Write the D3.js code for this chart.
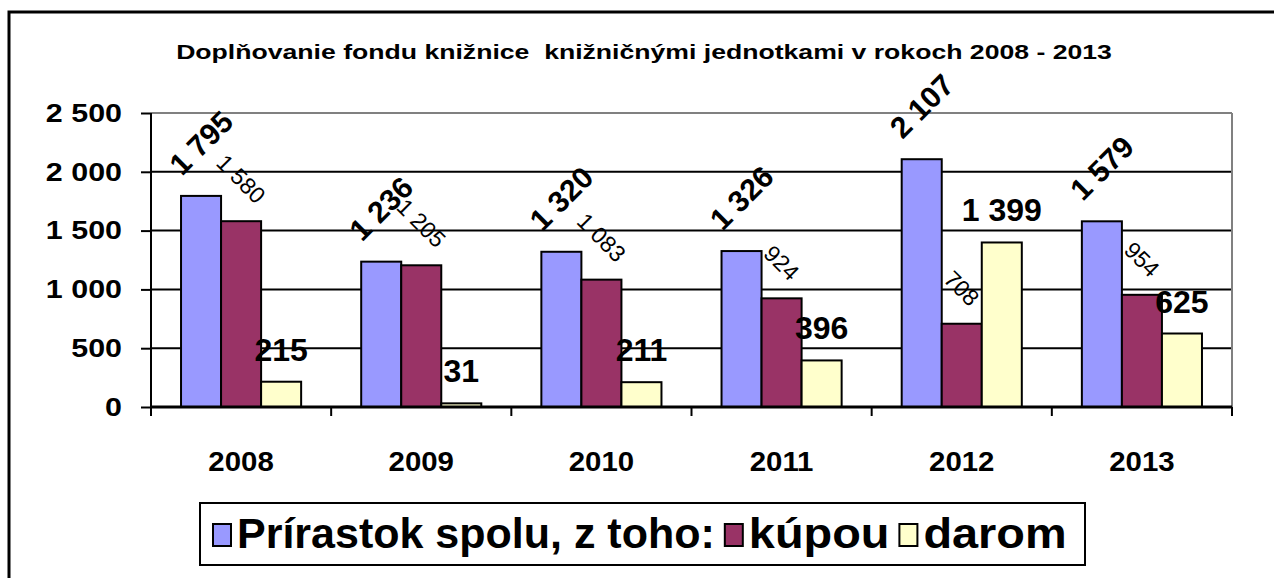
<!DOCTYPE html>
<html>
<head>
<meta charset="utf-8">
<script src="https://cdn.jsdelivr.net/npm/d3@7"></script>
<style>
  body { margin: 0; background: #fff; }
  text { font-family: Arial, "Liberation Sans", sans-serif; }
</style>
</head>
<body>
<div class="chart"></div>
<script>
// data
var years = ["2008", "2009", "2010", "2011", "2012", "2013"];
var spolu = [1795, 1236, 1320, 1326, 2107, 1579];
var kupou = [1580, 1205, 1083, 924, 708, 954];
var darom = [215, 31, 211, 396, 1399, 625];
var seriesNames = ["Prírastok spolu, z toho:", "kúpou", "darom"];
var seriesColors = ["#9999ff", "#993366", "#ffffcc"];
var yTicks = [0, 500, 1000, 1500, 2000, 2500];
var title = "Doplňovanie fondu knižnice  knižničnými jednotkami v rokoch 2008 - 2013";

var W = 1274, H = 578;
var plot = {left: 151, right: 1232, top: 113, bottom: 407};

var svg = d3.select(".chart").append("svg")
    .attr("width", W)
    .attr("height", H);

// widen text horizontally (the source font renders wide)
function stretch(sel, k) {
  sel.each(function() {
    var len = this.getComputedTextLength();
    d3.select(this).attr("textLength", len * k).attr("lengthAdjust", "spacingAndGlyphs");
  });
}

// outer frame (runs off the right and bottom edges)
svg.append("rect")
    .attr("x", 9).attr("y", 12)
    .attr("width", 1400).attr("height", 700)
    .attr("fill", "none")
    .attr("stroke", "#000")
    .attr("stroke-width", 3);

svg.append("text")
    .attr("x", 644).attr("y", 59)
    .attr("text-anchor", "middle")
    .attr("font-size", 20)
    .attr("font-weight", "bold")
    .style("white-space", "pre")
    .text(title)
    .call(stretch, 1.33);

var fmt = function(v) { return d3.format(",")(v).replace(/,/g, " "); };

var y = d3.scaleLinear().domain([0, 2500]).range([plot.bottom, plot.top]);
var x0 = d3.scaleBand().domain(years).range([plot.left, plot.right])
    .paddingInner(1 / 3).paddingOuter(1 / 6);
var x1 = d3.scaleBand().domain([0, 1, 2]).range([0, x0.bandwidth()]);

// gridlines
svg.append("g").selectAll("line")
    .data(yTicks.filter(function(d) { return d > 0; }))
    .enter().append("line")
      .attr("x1", plot.left).attr("x2", plot.right)
      .attr("y1", function(d) { return y(d); })
      .attr("y2", function(d) { return y(d); })
      .attr("stroke", function(d) { return d == 2500 ? "#808080" : "#000"; })
      .attr("stroke-width", 2);
// right border of plot area
svg.append("line")
    .attr("x1", plot.right).attr("x2", plot.right)
    .attr("y1", plot.top).attr("y2", plot.bottom)
    .attr("stroke", "#808080").attr("stroke-width", 2);

// bars
var table = years.map(function(yr, i) { return [spolu[i], kupou[i], darom[i]]; });
var groups = svg.append("g").selectAll("g")
    .data(table)
    .enter().append("g")
      .attr("transform", function(d, i) { return "translate(" + x0(years[i]) + ",0)"; });
groups.selectAll("rect")
    .data(function(d) { return d; })
    .enter().append("rect")
      .attr("x", function(d, j) { return x1(j); })
      .attr("y", function(d) { return y(d); })
      .attr("width", x1.bandwidth())
      .attr("height", function(d) { return y(0) - y(d); })
      .attr("fill", function(d, j) { return seriesColors[j]; })
      .attr("stroke", "#000")
      .attr("stroke-width", 2);

// axes
var yAxis = svg.append("g")
    .attr("transform", "translate(" + plot.left + ",0)")
    .call(d3.axisLeft(y).tickValues(yTicks).tickSize(10).tickPadding(19).tickFormat(fmt));
yAxis.select(".domain").remove();
yAxis.selectAll("line").attr("stroke", "#000").attr("stroke-width", 2);
yAxis.selectAll("text")
    .attr("font-size", 26).attr("font-weight", "bold")
    .attr("font-family", "Arial, 'Liberation Sans', sans-serif")
    .attr("fill", "#000")
    .call(stretch, 1.17);
svg.append("line")
    .attr("x1", plot.left).attr("x2", plot.left)
    .attr("y1", plot.top).attr("y2", plot.bottom + 9)
    .attr("stroke", "#000").attr("stroke-width", 2);

svg.append("line")
    .attr("x1", plot.left).attr("x2", plot.right)
    .attr("y1", plot.bottom).attr("y2", plot.bottom)
    .attr("stroke", "#000").attr("stroke-width", 3);
var bounds = years.map(function(d) { return x0(d) - x0.step() * x0.paddingOuter(); });
bounds.push(plot.right);
svg.append("g").selectAll("line")
    .data(bounds)
    .enter().append("line")
      .attr("x1", function(d) { return d; }).attr("x2", function(d) { return d; })
      .attr("y1", plot.bottom).attr("y2", plot.bottom + 9)
      .attr("stroke", "#000").attr("stroke-width", 2);
svg.append("g").selectAll("text")
    .data(years)
    .enter().append("text")
      .attr("x", function(d) { return x0(d) + x0.bandwidth() / 2; })
      .attr("y", 471)
      .attr("text-anchor", "middle")
      .attr("font-size", 28).attr("font-weight", "bold")
      .text(function(d) { return d; })
      .call(stretch, 1.05);

// data labels
function rotLabels(j, vals, size, weight, angle, offset) {
  svg.append("g").selectAll("text")
    .data(vals)
    .enter().append("text")
      .attr("text-anchor", "middle")
      .attr("dominant-baseline", "central")
      .attr("font-size", size).attr("font-weight", weight)
      .text(function(d) { return fmt(d); })
      .each(function(d, i) {
        var len = this.getComputedTextLength();
        var half = (len + size * 0.72) * 0.7071 / 2;
        var cx = x0(years[i]) + x1(j) + x1.bandwidth() / 2;
        var cy = y(d) - offset - half;
        d3.select(this).attr("x", cx).attr("y", cy)
          .attr("transform", "rotate(" + angle + " " + cx + " " + cy + ")");
      });
}
rotLabels(0, spolu, 30, "bold", -45, 19);
rotLabels(1, kupou, 23, "normal", 45, 16);

svg.append("g").selectAll("text")
    .data(darom)
    .enter().append("text")
      .attr("x", function(d, i) { return x0(years[i]) + x1(2) + x1.bandwidth() / 2; })
      .attr("y", function(d) { return y(d) - 21; })
      .attr("text-anchor", "middle")
      .attr("font-size", 32).attr("font-weight", "bold")
      .text(function(d) { return fmt(d); });

// legend
var legend = svg.append("g");
legend.append("rect")
    .attr("x", 200).attr("y", 503)
    .attr("width", 885).attr("height", 62)
    .attr("fill", "#fff").attr("stroke", "#000").attr("stroke-width", 2);
var lx = 213;
seriesNames.forEach(function(name, j) {
  legend.append("rect")
      .attr("x", lx).attr("y", 524)
      .attr("width", 18).attr("height", 22)
      .attr("fill", seriesColors[j]).attr("stroke", "#000").attr("stroke-width", 2);
  var t = legend.append("text")
      .attr("x", lx + 24).attr("y", 548)
      .attr("font-size", 43).attr("font-weight", "bold")
      .text(name)
      .call(stretch, j == 0 ? 1.0 : 1.09);
  lx += 24 + +t.attr("textLength") + 10;
});
</script>
</body>
</html>
